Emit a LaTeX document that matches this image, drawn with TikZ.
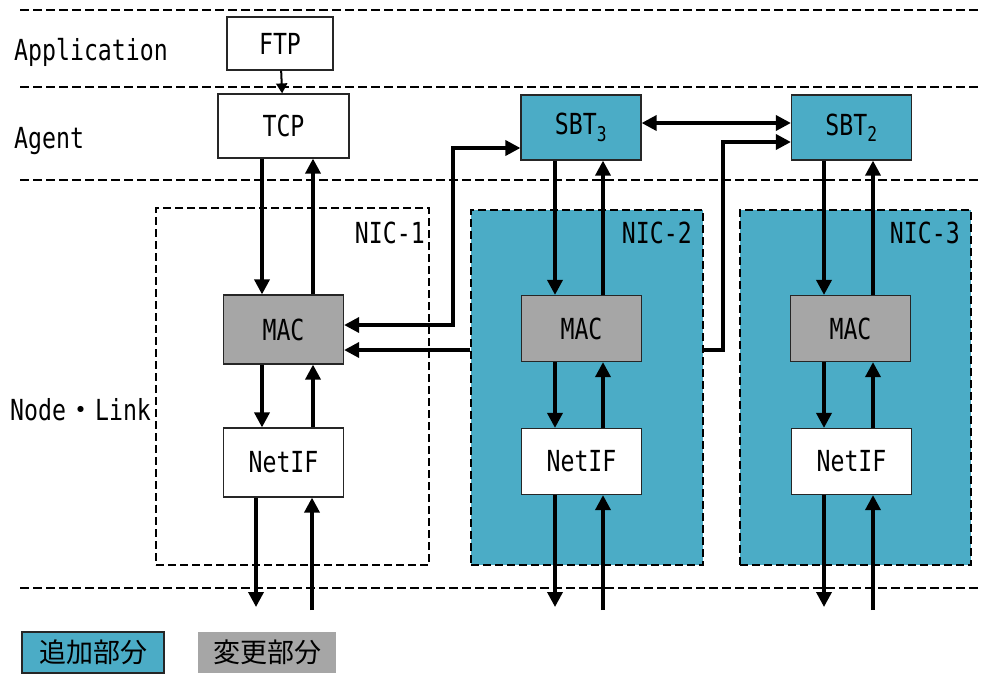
\documentclass[tikz,border=0pt]{standalone}
\usepackage{fontspec}
\setmainfont{DejaVu Sans Mono}[FakeStretch=0.8]
\newfontfamily\jpfont{Noto Sans CJK JP}
\usetikzlibrary{arrows.meta}
\definecolor{addblue}{HTML}{4BACC6}
\definecolor{chggray}{HTML}{A6A6A6}

\begin{document}
\begin{tikzpicture}[x=1pt, y=-1pt,
	font=\fontsize{29}{32}\selectfont,
	tip/.tip={Triangle[length=15pt, width=15pt]},
	txt/.style={inner sep=0pt},
	blk/.style={draw=black!85, line width=1.2pt, minimum width=120pt, minimum height=66pt, inner sep=0pt},
	addblk/.style={blk, fill=addblue},
	chgblk/.style={blk, fill=chggray},
	nic/.style={draw, line width=2pt, dash pattern=on 8pt off 4pt, inner sep=0pt},
	flow/.style={line width=3.5pt, -tip},
	biflow/.style={line width=3.5pt, tip-tip},
	legend/.style={font=\jpfont\fontsize{27}{30}\selectfont, minimum height=41pt, inner sep=0pt}]
	\useasboundingbox (0,0) rectangle (982,673);

	% Draw layer borders
	\foreach \y in {10, 87, 180, 588}
		\draw[line width=2.5pt, dash pattern=on 9pt off 4pt] (20,\y) -- (982,\y);

	% Layer names
	\node[txt, anchor=west] (lapp) at (14,52) {Application};
	\node[txt, anchor=west] (lagent) at (14,141) {Agent};
	\node[txt, anchor=west] (llink) at (10,410) {Node{\jpfont ・}Link};

	% NIC boxes
	\node[nic, minimum width=273pt, minimum height=357pt] (nic1) at (292.5,386.5) {};
	\node[nic, fill=addblue, minimum width=232pt, minimum height=355pt] (nic2) at (587,387.5) {};
	\node[nic, fill=addblue, minimum width=231pt, minimum height=355pt] (nic3) at (855.5,387.5) {};
	\node[txt, anchor=east] (nic1lbl) at (425,233) {NIC-1};
	\node[txt, anchor=east] (nic2lbl) at (692,233) {NIC-2};
	\node[txt, anchor=east] (nic3lbl) at (960,233) {NIC-3};

	% Blocks
	\node[blk, minimum width=106pt, minimum height=53pt] (ftp) at (280,43.5) {FTP};
	\node[blk, minimum width=131pt, minimum height=64pt] (tcp) at (283.5,126) {TCP};
	\node[addblk, minimum height=65pt] (sbt3) at (581,127.5) {SBT\textsubscript{3}};
	\node[addblk, minimum height=65pt] (sbt2) at (851.5,127.5) {SBT\textsubscript{2}};
	\node[chgblk, minimum height=69pt] (mac1) at (283.5,329.5) {MAC};
	\node[chgblk] (mac2) at (581.5,328.5) {MAC};
	\node[chgblk] (mac3) at (850.5,328.5) {MAC};
	\node[blk, fill=white, minimum height=69pt] (netif1) at (283.5,462.5) {NetIF};
	\node[blk, fill=white] (netif2) at (581.5,461.5) {NetIF};
	\node[blk, fill=white] (netif3) at (851.5,461.5) {NetIF};

	% Columns of the vertical arrows
	\coordinate (d1) at (262,0);   \coordinate (u1) at (313,0);
	\coordinate (d2) at (555,0);   \coordinate (u2) at (603,0);
	\coordinate (d3) at (824,0);   \coordinate (u3) at (873,0);
	\coordinate (bd1) at (256,607); \coordinate (bu1) at (312,610);
	\coordinate (bd2) at (555,607); \coordinate (bu2) at (603,610);
	\coordinate (bd3) at (824,607); \coordinate (bu3) at (873,610);

	% Vertical arrows
	\draw[line width=2pt, -{Triangle[length=10pt, width=11pt]}] (ftp) -- (tcp);
	\draw[flow] (tcp.south -| d1) -- (mac1.north -| d1);
	\draw[flow] (mac1.north -| u1) -- (tcp.south -| u1);
	\draw[flow] (sbt3.south -| d2) -- (mac2.north -| d2);
	\draw[flow] (mac2.north -| u2) -- (sbt3.south -| u2);
	\draw[flow] (sbt2.south -| d3) -- (mac3.north -| d3);
	\draw[flow] (mac3.north -| u3) -- (sbt2.south -| u3);
	\foreach \i in {1,2,3} {
		\draw[flow] (mac\i.south -| d\i) -- (netif\i.north -| d\i);
		\draw[flow] (netif\i.north -| u\i) -- (mac\i.south -| u\i);
		\draw[flow] (netif\i.south -| bd\i) -- (bd\i);
		\draw[flow] (bu\i) -- (netif\i.south -| bu\i);
	}

	% Links between the NICs
	\draw[biflow] ([yshift=4.5pt]sbt3.east) -- ([yshift=4.5pt]sbt2.west);
	\coordinate (k1) at (453,148);
	\draw[biflow] ([yshift=4.5pt]mac1.east) -| (k1) -- (sbt3.west |- k1);
	\coordinate (m1in) at ([yshift=-20.5pt]mac1.east);
	\draw[flow] (nic2.west |- m1in) -- (m1in);
	\coordinate (k2) at (723,350);
	\draw[flow] (nic2.east |- k2) -- (k2) |- ([yshift=-14.5pt]sbt2.west);

	% Legend
	\node[legend, draw=black!85, line width=1.2pt, fill=addblue, minimum width=142pt] (addlg) at (93,652.5) {追加部分};
	\node[legend, fill=chggray, minimum width=138pt] (chglg) at (267,652.5) {変更部分};
\end{tikzpicture}
\end{document}
